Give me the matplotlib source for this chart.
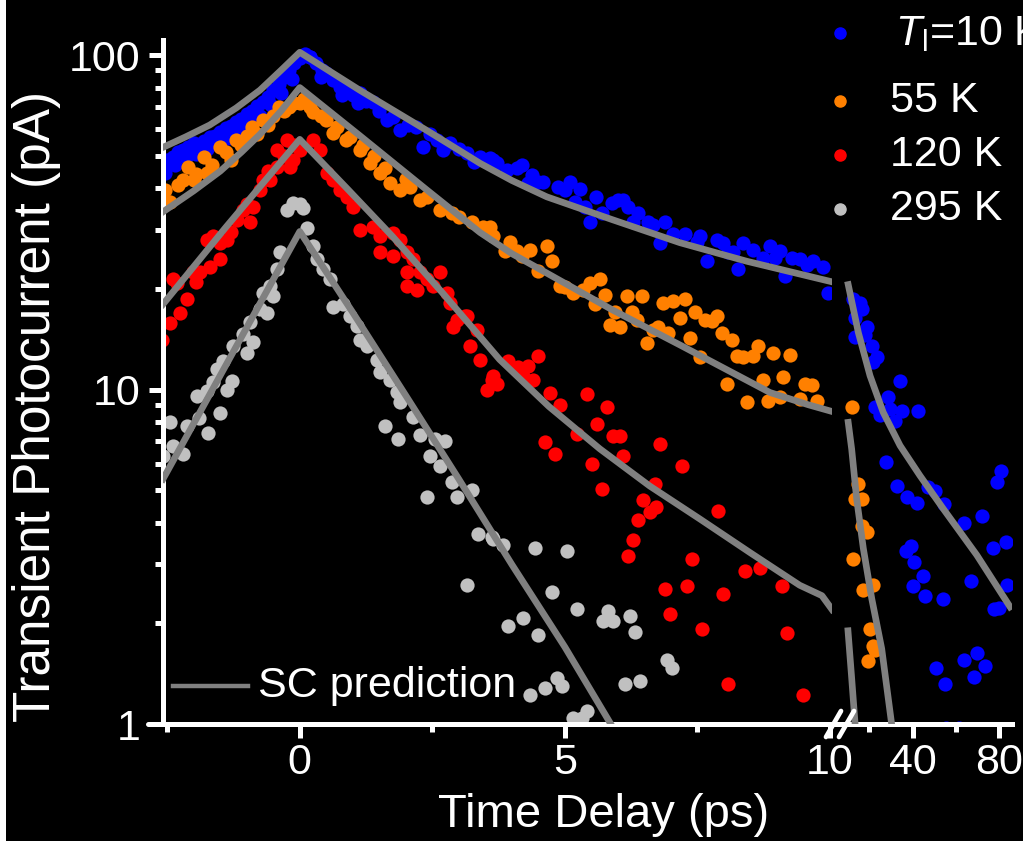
import matplotlib
matplotlib.use("Agg")
import matplotlib.pyplot as plt
from matplotlib.lines import Line2D
from matplotlib.patches import Rectangle
from matplotlib.ticker import FixedLocator, FixedFormatter, NullFormatter

# ---- measured photocurrent (pA) vs delay (ps), left panel: -2.6..10 ps ----
t_10 = [-2.58, -2.5, -2.4, -2.3, -2.2, -2.1, -2.0, -1.9, -1.8, -1.7, -1.6, -1.5, -1.4, -1.3, -1.2,
        -1.1, -1.0, -0.9, -0.8, -0.7, -0.6, -0.5, -0.4, -0.3, -0.2, -0.1, 0.0, 0.1, 0.2,
        -2.55, -2.35, -2.15, -1.95, -1.75, -1.55, -1.35, -1.15, -0.95, -0.75, -0.55, -0.35, -0.15,
        0.19, 0.3, 0.42, 0.5, 0.62, 0.75, 0.88, 1.0, 1.13, 1.25, 1.38, 1.5, 1.64, 1.75, 1.89, 2.05,
        2.2, 2.32, 2.45, 2.58, 2.7, 2.83, 3.0, 3.15, 3.28, 3.4, 3.58, 3.64, 0.4, 0.8, 1.1,
        3.72, 3.9, 4.09, 4.19, 4.38, 4.3, 4.49, 4.58, 4.87, 5.0, 5.09, 5.28, 5.19, 5.38, 5.47, 5.58,
        5.7, 5.89, 6.0, 6.1, 6.19, 6.38, 6.28, 6.57, 6.66, 6.89, 6.79, 7.04, 7.26, 7.55, 7.49, 7.68,
        7.87, 7.98, 8.08, 8.17, 8.26, 8.36, 8.55, 8.74, 8.87, 8.96, 9.06, 9.15, 9.28, 9.43, 9.57,
        9.68, 9.87, 9.96]
i_10 = [46.4, 48.5, 49.7, 51.5, 52.1, 53.0, 54.6, 54.0, 55.5, 57.0, 57.5, 58.8, 60.5, 61.5, 63.0,
        64.5, 66.5, 68.0, 70.5, 72.5, 75.0, 78.5, 82.0, 86.0, 90.0, 94.5, 98.0, 100.5, 99.0,
        44.5, 47.0, 49.5, 50.5, 52.5, 55.0, 56.5, 59.5, 62.5, 66.0, 71.0, 77.0, 85.0,
        98.6, 95.0, 90.0, 88.4, 84.0, 80.5, 78.6, 76.0, 77.0, 73.0, 72.3, 68.0, 64.0, 65.5, 59.8, 62.0,
        61.0, 53.2, 58.0, 55.8, 52.0, 54.6, 52.5, 51.0, 48.0, 49.7, 49.3, 48.6, 86.0, 76.0, 72.0,
        47.6, 45.4, 46.0, 47.0, 43.9, 41.5, 41.8, 41.8, 40.4, 39.6, 41.8, 39.9, 36.5, 35.2, 31.6, 37.7,
        33.8, 36.2, 37.0, 37.0, 35.2, 33.8, 31.8, 31.8, 31.1, 31.8, 27.5, 29.1, 29.1, 28.7, 27.7, 24.2,
        28.1, 27.5, 25.7, 25.7, 22.9, 27.5, 26.2, 24.8, 26.8, 24.8, 25.9, 21.8, 24.8, 24.5, 23.6,
        24.2, 23.2, 19.5]

t_55 = [-2.58, -2.55, -2.45, -2.3, -2.2, -2.1, -2.0, -1.95, -1.8, -1.75, -1.65, -1.5, -1.4, -1.3,
        -1.2, -1.1, -1.0, -0.9, -0.8, -0.7, -0.6, -0.5, -0.4, -0.3, -0.2, -0.1, 0.0, 0.08,
        0.2, 0.25, 0.4, 0.5, 0.62, 0.7, 0.88, 0.95, 1.13, 1.2, 1.32, 1.4, 1.51, 1.6, 1.7, 1.89, 2.0,
        2.08, 2.26, 2.4, 2.64, 2.87, 3.0, 3.25, 3.45, 3.58, 3.64, 3.96, 3.87, 4.09, 4.2, 4.34, 4.66,
        4.75, 4.49, 4.9, 5.0, 5.15, 5.34, 5.47, 5.66, 5.75, 5.57, 5.94, 5.85, 6.04, 6.17, 6.45, 6.26,
        6.36, 6.55, 6.66, 6.75, 6.85, 7.04, 7.26, 6.94, 7.17, 7.36, 7.45, 7.64, 7.77, 7.87, 7.55,
        7.96, 8.15, 8.06, 8.25, 8.36, 8.55, 8.64, 8.74, 8.92, 9.11, 9.25, 8.43, 8.83, 9.06, 9.43,
        9.53, 9.66, 9.75]
i_55 = [37.7, 39.6, 36.5, 41.0, 42.4, 46.2, 42.4, 44.0, 49.7, 44.5, 47.0, 53.3, 51.2, 48.6,
        55.8, 54.0, 57.5, 61.0, 58.0, 64.0, 62.0, 66.0, 70.0, 68.0, 70.0, 72.0, 71.8, 74.0,
        70.0, 67.5, 66.0, 64.0, 58.6, 61.0, 55.8, 57.0, 52.1, 54.0, 47.6, 50.0, 44.5, 46.0, 41.5, 39.6, 42.5,
        40.4, 37.0, 37.7, 34.5, 33.8, 32.9, 31.6, 30.7, 30.7, 28.7, 27.7, 25.9, 25.9, 25.0, 26.2, 26.8,
        24.2, 22.6, 20.4, 20.2, 19.5, 19.9, 20.9, 21.4, 19.2, 18.0, 17.1, 15.6, 15.4, 19.0, 19.0, 17.1,
        16.2, 13.8, 15.1, 15.4, 18.2, 18.4, 18.6, 14.8, 16.4, 14.3, 17.1, 16.2, 16.0, 16.6, 12.5,
        14.8, 14.1, 10.4, 12.6, 12.5, 12.6, 13.5, 10.7, 12.9, 10.9, 12.7, 9.2, 9.26, 9.5, 9.4,
        10.4, 10.3, 9.26]

t_120 = [-2.6, -2.45, -2.26, -2.13, -2.32, -2.02, -1.89, -1.75, -1.64, -1.51, -1.51, -1.38, -1.19,
         -1.08, -0.94, -0.89, -0.75, -0.7, -0.57, -0.43, -0.43, -0.25, -0.19, -0.13, 0.0,
         -2.4, -1.95, -1.7, -1.3, -1.0, -0.6, -0.3, -0.1,
         0.25, 0.38, 0.51, 0.62, 0.75, 0.89, 1.0, 1.13, 1.38, 1.51, 1.75, 1.89, 1.51, 1.75, 2.02, 2.13,
         2.02, 2.26, 2.02, 2.21, 2.4, 2.51, 2.64, 2.77, 2.83, 2.96, 3.15, 3.34, 3.21, 3.4, 3.64, 3.11,
         2.89, 3.62, 3.53, 3.72, 3.92, 4.11, 4.3, 4.21, 4.49, 4.4, 4.72, 4.91, 5.42, 5.79, 5.6, 5.23,
         5.91, 6.04, 6.09, 5.51, 4.62, 4.81, 5.7, 6.47, 6.6, 6.38, 6.28, 6.19, 6.79, 7.21, 6.7, 7.89,
         7.4, 6.89, 7.3, 7.98, 6.98, 7.58, 8.4, 9.09, 9.19, 8.08, 9.49, 6.72, 8.68]
i_120 = [14.1, 15.8, 17.0, 18.6, 20.9, 22.4, 22.4, 28.1, 28.7, 27.5, 24.5, 28.1, 32.2,
         34.5, 31.6, 35.2, 39.6, 42.4, 42.4, 46.4, 52.1, 55.8, 46.4, 48.6, 52.1,
         21.4, 21.0, 23.3, 29.5, 36.0, 45.0, 50.0, 54.0,
         55.8, 52.1, 44.5, 42.4, 39.6, 37.7, 35.2, 30.1, 30.7, 28.7, 29.4, 28.1, 25.7, 25.0, 25.7, 24.5,
         22.4, 22.4, 20.4, 19.9, 21.4, 20.4, 22.4, 19.5, 18.2, 16.2, 16.6, 15.1, 13.5, 12.3, 11.0, 16.6,
         15.4, 10.7, 10.0, 10.4, 12.2, 11.7, 11.8, 11.0, 12.6, 10.7, 9.8, 9.0, 9.7, 8.9, 7.9, 7.37,
         7.28, 7.28, 6.33, 5.99, 6.98, 6.42, 5.05, 4.66, 4.31, 4.06, 3.54, 3.17, 6.89, 5.91, 5.22, 4.32,
         3.12, 2.54, 2.58, 2.45, 2.14, 1.93, 2.86, 2.58, 1.87, 1.32, 1.22, 4.46, 2.92]

t_295 = [-2.58, -2.4, -2.45, -2.13, -1.94, -1.75, -1.74, -1.51, -1.64, -1.38, -1.28, -1.57, -1.45,
         -1.26, -1.0, -0.89, -1.08, -0.94, -0.75, -0.62, -0.7, -0.51, -0.57, -0.43, -0.38, -0.25,
         -0.13, 0.0, 0.06, 0.13, -2.2, -1.9,
         0.25, 0.32, 0.43, 0.57, 0.62, 0.81, 0.94, 1.08, 1.13, 1.26, 1.45, 1.51, 1.7, 1.83, 1.89,
         2.13, 1.6, 1.85, 2.26, 2.55, 2.74, 2.45, 2.64, 2.87, 2.96, 3.25, 2.4, 3.15, 3.36, 3.62,
         3.83, 4.43, 5.04, 4.75, 5.23, 4.21, 3.92, 4.49, 5.72, 5.91, 5.81, 6.23, 6.32, 6.92, 7.02,
         6.13, 6.42, 4.85, 4.94, 4.62, 4.34, 5.42, 5.15, 5.32, 3.64]
i_295 = [6.35, 6.8, 8.0, 7.8, 9.6, 9.9, 7.4, 8.5, 10.5, 10.0, 10.6, 11.5, 12.2,
         13.5, 12.9, 13.9, 14.7, 15.9, 17.4, 17.0, 19.5, 19.0, 20.4, 22.9, 25.7, 34.5,
         36.2, 35.8, 35.0, 30.5, 6.4, 8.2,
         26.8, 24.5, 22.9, 21.4, 17.7, 18.0, 16.6, 15.5, 14.1, 13.5, 12.3, 11.3, 10.7, 9.85, 9.15,
         8.3, 7.8, 7.1, 7.3, 7.1, 7.0, 6.35, 5.9, 5.3, 4.78, 5.0, 4.78, 2.6, 3.7, 3.63,
         3.42, 3.37, 3.3, 2.49, 2.21, 2.07, 1.96, 1.84, 2.03, 2.03, 2.17, 2.1, 1.88, 1.55, 1.47,
         1.32, 1.34, 1.37, 1.3, 1.28, 1.22, 1.09, 1.04, 1.04, 3.58]

# ---- right panel (long delays, linear scale) ----
t_10_long = [12.4, 15.7, 16.6, 13.4, 18.9, 13.4, 18.0, 21.2, 23.5, 21.7, 34.1, 28.6, 22.6, 24.9,
             29.5, 31.8, 35.0, 42.4, 27.6, 32.7, 37.3, 41.9, 46.9, 50.2, 54.4, 63.6, 71.9, 80.7,
             78.9, 77.0, 83.1, 36.9, 39.2, 40.6, 44.7, 40.2, 45.8, 54.0, 66.9, 83.6, 77.5, 80.2,
             51.0, 54.9, 64.0, 70.0, 73.3, 68.5, 55.5, 61.5]
i_10_long = [18.6, 18.2, 17.4, 16.4, 15.4, 14.4, 14.6, 13.5, 12.5, 12.1, 10.6, 9.5, 8.9, 8.4,
             8.75, 8.05, 8.6, 8.6, 6.08, 5.16, 4.77, 4.58, 5.12, 4.98, 4.56, 4.0, 4.2, 5.71,
             5.3, 3.37, 3.49, 3.3, 3.4, 3.06, 2.78, 2.58, 2.41, 2.36, 2.67, 2.6, 2.2, 2.23,
             1.47, 1.32, 1.55, 1.63, 1.49, 1.38, 0.97, 0.97]
t_55_long = [12.0, 14.7, 13.4, 16.6, 16.6, 18.9, 12.4, 17.0, 21.7, 20.3, 21.7, 22.6, 19.4]
i_55_long = [8.9, 5.23, 4.72, 4.72, 3.92, 3.76, 3.12, 2.51, 2.6, 1.93, 1.71, 1.66, 1.54]

# ---- SC prediction curves ----
sc_t_10 = [-2.58, -2.15, -1.7, -1.2, -0.75, -0.35, 0.0, 1.13, 2.4, 3.0, 3.4, 4.0, 4.66, 5.9,
           7.17, 8.43, 10.04]
sc_10 = [53, 57, 61.8, 69.5, 78.6, 90.2, 102, 78.6, 59.5, 52, 47.5, 42.2, 37.7, 32.2,
         27.5, 24.2, 21]
sc_t_55 = [-2.58, -2.0, -1.5, -1.1, -0.75, -0.35, 0.0, 1.13, 2.4, 3.4, 4.0, 4.66, 5.9, 7.17,
           8.87, 9.6, 10.04]
sc_55 = [34, 39.3, 45, 51.3, 58, 68.2, 80, 57.5, 39.5, 29.5, 25.5, 22.3, 17.3, 13.6,
         9.8, 9.0, 8.6]
sc_t_120 = [-2.58, -1.4, 0.0, 0.9, 1.75, 2.7, 3.77, 4.7, 5.66, 6.6, 7.55, 8.5, 9.43, 9.85, 10.04]
sc_120 = [18, 30.5, 56, 39.8, 28.7, 19.4, 12.3, 8.9, 6.65, 5.15, 4.1, 3.25, 2.6, 2.42, 2.2]
sc_t_295 = [-2.58, 0.0, 1.0, 2.0, 3.0, 4.0, 5.0, 5.9]
sc_295 = [5.4, 29.7, 17, 9.6, 5.4, 3.0, 1.7, 0.98]

sc_t_10_long = [10.2, 14.9, 20.3, 26.4, 34.2, 43.4, 54.2, 69.7, 85.1]
sc_10_long = [20.6, 14.8, 11.0, 8.55, 6.8, 5.53, 4.4, 3.2, 2.24]
sc_t_55_long = [10.2, 11.8, 14.1, 17.2, 21.1, 25.7, 30.3]
sc_55_long = [7.98, 6.64, 4.72, 3.35, 2.37, 1.68, 1.0]
sc_t_120_long = [10.1, 11.7, 13.5]
sc_120_long = [1.9, 1.4, 0.98]

labels = [r"$T_\mathrm{l}$=10 K", "55 K", "120 K", "295 K"]
colors = ["#0000FF", "#FF8000", "#FF0000", "#C0C0C0"]
line_color = "#808080"

plt.rcParams["font.family"] = ["Liberation Sans", "DejaVu Sans"]
plt.rcParams["mathtext.fontset"] = "custom"
plt.rcParams["mathtext.rm"] = "Liberation Sans"
plt.rcParams["mathtext.it"] = "Liberation Sans:italic"

W, H = 1023, 841
fig = plt.figure(figsize=(W / 100, H / 100), dpi=100, facecolor="black")
ax = fig.add_axes([163 / W, 1 - 724 / H, (832 - 163) / W, (724 - 40) / H])
ax2 = fig.add_axes([832 / W, 1 - 724 / H, (1012 - 832) / W, (724 - 40) / H])

ms = 105
lw_sc = 4.8
for t, i, c in [(t_10, i_10, colors[0]), (t_55, i_55, colors[1]),
                (t_120, i_120, colors[2]), (t_295, i_295, colors[3])]:
    ax.scatter(t, i, s=ms, color=c, linewidths=0, zorder=2)
for t, i in [(sc_t_10, sc_10), (sc_t_55, sc_55), (sc_t_120, sc_120), (sc_t_295, sc_295)]:
    ax.plot(t, i, color=line_color, lw=lw_sc, zorder=3, solid_joinstyle="round")

ax2.scatter(t_10_long, i_10_long, s=ms, color=colors[0], linewidths=0, zorder=2)
ax2.scatter(t_55_long, i_55_long, s=ms, color=colors[1], linewidths=0, zorder=2)
for t, i in [(sc_t_10_long, sc_10_long), (sc_t_55_long, sc_55_long), (sc_t_120_long, sc_120_long)]:
    ax2.plot(t, i, color=line_color, lw=lw_sc, zorder=3, solid_joinstyle="round")

for a in (ax, ax2):
    a.set_facecolor("black")
    a.set_yscale("log")
    a.set_ylim(1, 111)
    for s in ("top", "right"):
        a.spines[s].set_visible(False)
    a.spines["bottom"].set_color("white")
    a.spines["bottom"].set_linewidth(3.6)
    a.tick_params(which="both", direction="out", color="white", labelcolor="white",
                  width=3.6, labelsize=31)
    a.tick_params(which="major", length=10)
    a.tick_params(which="minor", length=6)
    a.tick_params(axis="x", pad=4)
    a.tick_params(axis="y", pad=6)

ax.set_xlim(-2.58, 10.04)
ax.spines["left"].set_color("white")
ax.spines["left"].set_linewidth(3.6)
ax.xaxis.set_major_locator(FixedLocator([0, 5, 10]))
ax.xaxis.set_major_formatter(FixedFormatter(["0", "5", "10"]))
ax.xaxis.set_minor_locator(FixedLocator([-2.5, 2.5, 7.5]))
ax.yaxis.set_major_locator(FixedLocator([1, 10, 100]))
ax.yaxis.set_major_formatter(FixedFormatter(["1", "10", "100"]))
ax.yaxis.set_minor_locator(FixedLocator([2, 3, 4, 5, 6, 7, 8, 9, 20, 30, 40, 50, 60, 70, 80, 90]))
ax.yaxis.set_minor_formatter(NullFormatter())

ax2.set_xlim(2.7, 86)
ax2.spines["left"].set_visible(False)
ax2.yaxis.set_visible(False)
ax2.xaxis.set_major_locator(FixedLocator([40, 80]))
ax2.xaxis.set_major_formatter(FixedFormatter(["40", "80"]))
ax2.xaxis.set_minor_locator(FixedLocator([20, 60]))

# x axis line runs a little past the y axis on the left
fig.add_artist(Line2D([148 / W, 164 / W], [1 - 724 / H, 1 - 724 / H], transform=fig.transFigure,
                      color="white", lw=3.6, solid_capstyle="round"))

# axis break marks
for x0 in (826, 839):
    fig.add_artist(Line2D([x0 / W, (x0 + 15) / W], [1 - 737 / H, 1 - 711 / H],
                          transform=fig.transFigure, color="white", lw=3.4,
                          solid_capstyle="round", zorder=5))

# axis labels
fig.text(37 / W, 1 - 406 / H, "Transient Photocurrent (pA)", rotation=90, color="white",
         fontsize=37, ha="center", va="center")
fig.text(604 / W, 1 - 827 / H, "Time Delay (ps)", color="white", fontsize=34,
         ha="center", va="baseline")

# legend for temperatures
leg_y = [33, 101, 155, 209]
leg_base = [45, 112, 166, 220]
leg_x = [895, 890, 890, 890]
for lab, c, y, yb, xt in zip(labels, colors, leg_y, leg_base, leg_x):
    fig.add_artist(Line2D([840 / W], [1 - y / H], marker="o", ms=8, color=c, lw=0,
                          transform=fig.transFigure))
    fig.text(xt / W, 1 - yb / H, lab, color="white", fontsize=31, ha="left", va="baseline")

# legend for SC prediction
fig.add_artist(Line2D([173 / W, 248 / W], [1 - 686 / H, 1 - 686 / H], transform=fig.transFigure,
                      color=line_color, lw=3.2))
fig.text(258 / W, 1 - 686 / H, "SC prediction", color="white", fontsize=31, ha="left", va="center")

# white strip along the left edge
fig.add_artist(Rectangle((0, 0), 6 / W, 1, transform=fig.transFigure, color="white", lw=0))

fig.savefig("out.png", dpi=100, facecolor="black")
